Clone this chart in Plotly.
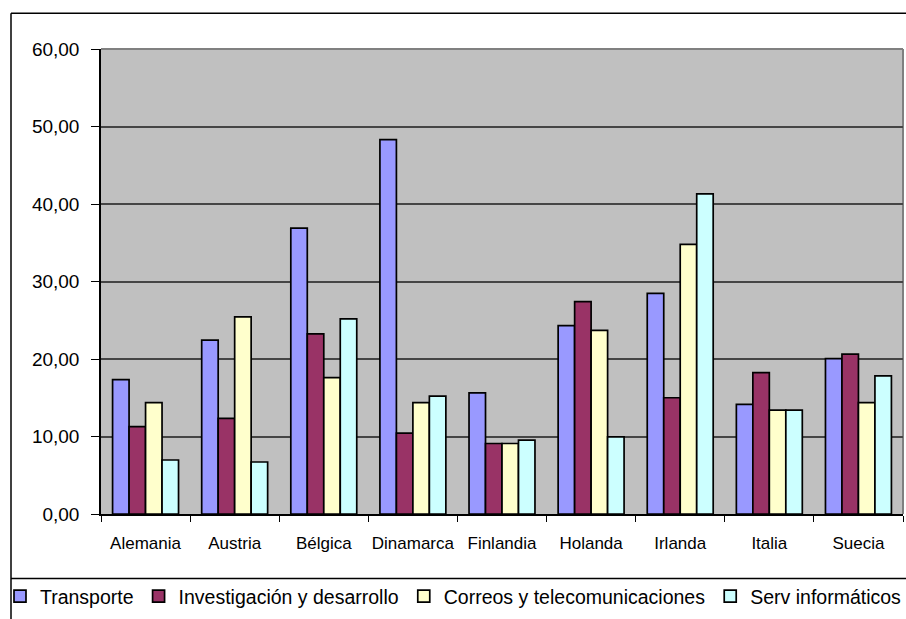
import plotly.graph_objects as go

# Countries on the category axis
paises = ["Alemania", "Austria", "Bélgica", "Dinamarca", "Finlandia",
          "Holanda", "Irlanda", "Italia", "Suecia"]

# Values per service sector
transporte = [17.35, 22.43, 36.90, 48.30, 15.64, 24.30, 28.46, 14.15, 20.04]
investigacion = [11.28, 12.35, 23.25, 10.43, 9.10, 27.40, 15.00, 18.25, 20.64]
correos = [14.36, 25.43, 17.60, 14.36, 9.10, 23.70, 34.80, 13.40, 14.36]
serv_informaticos = [6.97, 6.71, 25.17, 15.20, 9.53, 9.96, 41.30, 13.40, 17.82]

series = [
    ("Transporte", transporte, "#9999FF"),
    ("Investigación y desarrollo", investigacion, "#993366"),
    ("Correos y telecomunicaciones", correos, "#FFFFCC"),
    ("Serv informáticos", serv_informaticos, "#CCFFFF"),
]

W, H = 906, 619
ML, MR, MT, MB = 101, 3, 49, 102
PW, PH = W - ML - MR, H - MT - MB


def px_x(v):
    return (v - ML) / PW


def px_y(v):
    return (H - MB - v) / PH


fig = go.Figure()
for nombre, valores, color in series:
    fig.add_trace(go.Bar(
        x=paises, y=valores, name=nombre,
        marker=dict(color=color, line=dict(color="#000000", width=1.7)),
    ))

font = "Liberation Sans, Arial, sans-serif"

shapes = [
    # plot area border (top and right)
    dict(type="line", xref="paper", yref="paper", x0=0, x1=1, y0=1, y1=1,
         line=dict(color="#808080", width=2), layer="below"),
    dict(type="line", xref="paper", yref="paper", x0=1, x1=1, y0=0, y1=1,
         line=dict(color="#808080", width=2), layer="below"),
    # chart frame
    dict(type="line", xref="paper", yref="paper", x0=px_x(11), x1=px_x(W + 5),
         y0=px_y(13), y1=px_y(13), line=dict(color="#000000", width=1.5)),
    dict(type="line", xref="paper", yref="paper", x0=px_x(11), x1=px_x(11),
         y0=px_y(13), y1=px_y(H + 5), line=dict(color="#000000", width=1.5)),
    # legend separator
    dict(type="line", xref="paper", yref="paper", x0=px_x(11), x1=px_x(W + 5),
         y0=px_y(582), y1=px_y(582), line=dict(color="#000000", width=1.5)),
]

fig.update_layout(
    width=W, height=H,
    margin=dict(l=ML, r=MR, t=MT, b=MB, pad=0),
    paper_bgcolor="#FFFFFF",
    plot_bgcolor="#C0C0C0",
    barmode="group",
    bargap=0.26,
    bargroupgap=0,
    separators=",.",
    font=dict(family=font, color="#000000", size=17),
    showlegend=True,
    legend=dict(
        orientation="h", x=px_x(3), xanchor="left", y=px_y(600), yanchor="middle",
        font=dict(size=19.5, family=font), bgcolor="rgba(0,0,0,0)",
        itemwidth=30, tracegroupgap=0,
    ),
    shapes=shapes,
)

fig.update_xaxes(
    showline=True, linecolor="#000000", linewidth=1.5,
    ticks="outside", tickson="boundaries", ticklen=6, tickcolor="#000000",
    tickfont=dict(size=17), tickangle=0, ticklabelstandoff=13,
    showgrid=False,
)
fig.update_yaxes(
    range=[0, 60], dtick=10, tickformat=".2f",
    showline=True, linecolor="#000000", linewidth=1.5,
    ticks="outside", ticklen=8, tickcolor="#000000",
    tickfont=dict(size=19), ticklabelstandoff=8,
    showgrid=True, gridcolor="#454545", gridwidth=1.5,
    zeroline=False,
)

fig.write_html("out.html")
